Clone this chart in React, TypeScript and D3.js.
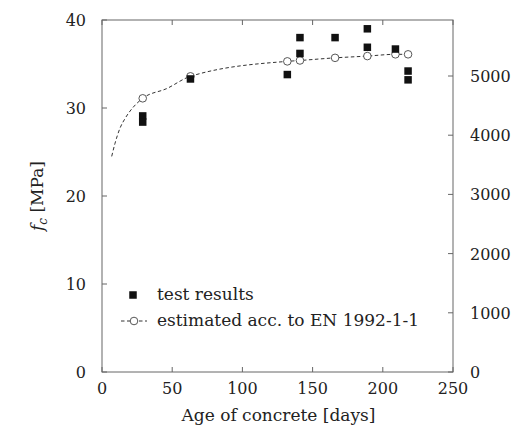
import React from "react";
import * as d3 from "d3";

const testDays = [29, 29, 63, 132, 141, 141, 166, 189, 189, 209, 218, 218];
const testFc = [29.1, 28.4, 33.3, 33.8, 38.0, 36.2, 38.0, 39.0, 36.9, 36.7, 34.2, 33.2];
const estDays = [29, 63, 132, 141, 166, 189, 209, 218];
const estFc = [31.1, 33.6, 35.3, 35.4, 35.7, 35.9, 36.1, 36.1];
const curveDays = [6.9, 9.3, 12.8, 16.4, 22.3, 29, 46, 63, 132, 141, 166, 189, 209, 218];
const curveFc = [24.5, 26.0, 27.7, 28.8, 30.1, 31.1, 32.2, 33.6, 35.3, 35.4, 35.7, 35.9, 36.1, 36.1];
const xTicks = [0, 50, 100, 150, 200, 250];
const yTicks = [0, 10, 20, 30, 40];
const y2Ticks = [0, 1000, 2000, 3000, 4000, 5000];

const W = 513, H = 434;
const L = 102, R = 453, T = 20, B = 372;
const FONT = '"DejaVu Serif", "Liberation Serif", serif';
const AX = "#666";
const TXT = "#222";

export default function App() {
  const x = d3.scaleLinear().domain([0, 250]).range([L, R]);
  const y = d3.scaleLinear().domain([0, 40]).range([B, T]);
  const y2 = d3.scaleLinear().domain([0, 5946]).range([B, T]);
  const line = d3.line<number>().x((_, i) => x(curveDays[i])).y((_, i) => y(curveFc[i])).curve(d3.curveMonotoneX);
  const sq = 7.5;
  const tl = 5;
  const fs = 16;
  const fl = 17;
  return (
    <svg width={W} height={H} style={{ position: "absolute", left: 0, top: 0, background: "#fff", fontFamily: FONT }}>
      <rect x={0} y={0} width={W} height={H} fill="#fff" />
      <rect x={L} y={T} width={R - L} height={B - T} fill="none" stroke={AX} strokeWidth={1} />
      {xTicks.map((t) => (
        <g key={"x" + t}>
          <line x1={x(t)} x2={x(t)} y1={B} y2={B - tl} stroke={AX} />
          <line x1={x(t)} x2={x(t)} y1={T} y2={T + tl} stroke={AX} />
          <text x={x(t)} y={394} textAnchor="middle" fontSize={fs} fill={TXT}>{t}</text>
        </g>
      ))}
      {yTicks.map((t) => (
        <g key={"y" + t}>
          <line x1={L} x2={L + tl} y1={y(t)} y2={y(t)} stroke={AX} />
          <text x={86} y={y(t) + 6} textAnchor="end" fontSize={fs} fill={TXT}>{t}</text>
        </g>
      ))}
      {y2Ticks.map((t) => (
        <g key={"y2" + t}>
          <line x1={R} x2={R - tl} y1={y2(t)} y2={y2(t)} stroke={AX} />
          <text x={470} y={y2(t) + 6} textAnchor="start" fontSize={fs} fill={TXT}>{t}</text>
        </g>
      ))}
      <path d={line(curveDays) || ""} fill="none" stroke="#333" strokeWidth={1} strokeDasharray="3.5,2.5" />
      {estDays.map((d, i) => (
        <circle key={"c" + i} cx={x(d)} cy={y(estFc[i])} r={3.8} fill="#fff" stroke="#444" strokeWidth={0.9} />
      ))}
      {testDays.map((d, i) => (
        <rect key={"s" + i} x={x(d) - sq / 2} y={y(testFc[i]) - sq / 2} width={sq} height={sq} fill="#111" />
      ))}
      <rect x={133 - sq / 2} y={295 - sq / 2} width={sq} height={sq} fill="#111" />
      <text x={157} y={300} fontSize={fl} fill={TXT}>test results</text>
      <line x1={121} x2={147} y1={321} y2={321} stroke="#333" strokeWidth={1} strokeDasharray="3.5,2.5" />
      <circle cx={134} cy={321} r={3.8} fill="#fff" stroke="#444" strokeWidth={0.9} />
      <text x={157} y={326} fontSize={fl} fill={TXT}>estimated acc. to EN 1992-1-1</text>
      <text x={(L + R) / 2 + 1} y={421} textAnchor="middle" fontSize={fl} fill={TXT}>Age of concrete [days]</text>
      <text transform={`translate(43,${196}) rotate(-90)`} textAnchor="middle" fontSize={fl} fill={TXT}>
        <tspan fontStyle="italic">f</tspan>
        <tspan fontStyle="italic" fontSize={12} dy={4}>c</tspan>
        <tspan dy={-4}> [MPa]</tspan>
      </text>
    </svg>
  );
}
